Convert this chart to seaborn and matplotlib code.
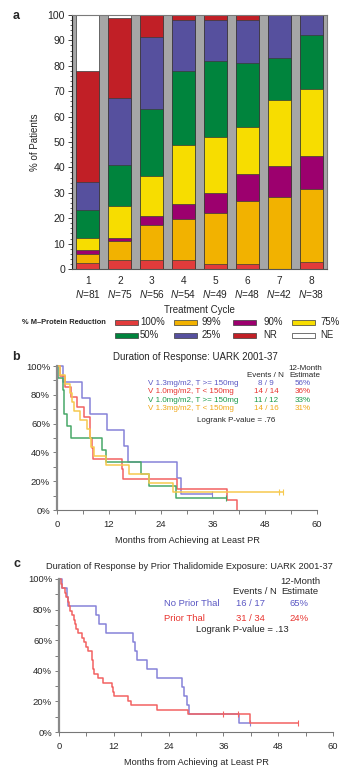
import numpy as np
import pandas as pd
import matplotlib
matplotlib.use("Agg")
import matplotlib.pyplot as plt
import seaborn as sns
from matplotlib.ticker import MultipleLocator
from matplotlib.patches import Rectangle

# ---------------- data: panel a ----------------
cycles = ["1", "2", "3", "4", "5", "6", "7", "8"]
n_pat = [81, 75, 56, 54, 49, 48, 42, 38]
pct_100 = [2.5, 3.7, 3.5, 3.7, 2.0, 2.1, 0.0, 2.6]
pct_99 = [3.6, 7.4, 13.9, 16.1, 19.9, 24.8, 28.4, 28.9]
pct_90 = [1.2, 1.3, 3.6, 5.6, 7.9, 10.5, 12.0, 13.1]
pct_75 = [4.9, 12.6, 15.5, 23.5, 22.1, 18.7, 26.1, 26.3]
pct_50 = [11.0, 16.1, 26.5, 29.1, 29.9, 25.0, 16.7, 21.2]
pct_25 = [11.1, 26.3, 28.2, 20.2, 16.2, 16.8, 16.8, 7.9]
pct_nr = [43.6, 31.3, 8.8, 1.8, 2.0, 2.1, 0.0, 0.0]
pct_ne = [22.1, 1.3, 0.0, 0.0, 0.0, 0.0, 0.0, 0.0]
resp_labels = ["100%", "99%", "90%", "75%", "50%", "25%", "NR", "NE"]

# ---------------- data: panel b (event / censor times, months) ----------------
b_labels = ["V 1.3mg/m2, T >= 150mg", "V 1.0mg/m2, T < 150mg",
            "V 1.0mg/m2, T >= 150mg", "V 1.3mg/m2, T < 150mg"]
b_events_n = ["8 / 9", "14 / 14", "11 / 12", "14 / 16"]
b_est = ["56%", "36%", "33%", "31%"]
b1_ev = [1.4, 5.7, 7.6, 11.5, 15.5, 16.3, 27.6, 28.5]
b1_cen = [35.7]
b2_ev = [0.7, 1.8, 3.2, 4.7, 6.3, 7.5, 7.6, 8.0, 8.4, 14.9, 15.3, 27.6, 39.2, 41.5]
b2_cen = []
b3_ev = [0.3, 1.3, 1.5, 1.7, 2.2, 3.2, 10.3, 11.3, 19.3, 21.2, 27.4]
b3_cen = [39.0]
b4_ev = [0.7, 1.9, 3.0, 3.4, 4.0, 5.2, 7.0, 7.5, 7.9, 8.6, 11.3, 16.5, 21.2, 26.7]
b4_cen = [51.3, 52.2]

# ---------------- data: panel c ----------------
c_labels = ["No Prior Thal", "Prior Thal"]
c_events_n = ["16 / 17", "31 / 34"]
c_est = ["65%", "24%"]
c1_ev = [0.7, 1.7, 1.9, 8.2, 8.7, 10.4, 16.1, 16.6, 17.0, 19.2, 21.4, 26.9, 27.4,
         28.1, 28.5, 39.5]
c1_cen = [41.8]
c2_ev = [0.4, 0.7, 1.4, 1.6, 1.9, 2.1, 2.4, 2.8, 3.3, 3.5, 3.7, 4.2, 5.0, 5.5, 5.9,
         6.4, 7.2, 7.3, 7.4, 7.5, 7.7, 8.6, 9.7, 11.5, 11.8, 12.0, 15.2, 15.8, 21.4,
         28.3, 41.8]
c2_cen = [36.0, 39.3, 52.3]

# ---------------- style ----------------
sns.set_style("ticks")
plt.rcParams["font.family"] = ["Liberation Sans", "DejaVu Sans"]
plt.rcParams["mathtext.fontset"] = "custom"
plt.rcParams["mathtext.rm"] = "Liberation Sans"
plt.rcParams["mathtext.it"] = "Liberation Sans:italic"

W, H = 339, 772
fig = plt.figure(figsize=(W / 100, H / 100), dpi=100)


def ax_px(l, t, r, b):
    return fig.add_axes([l / W, 1 - b / H, (r - l) / W, (b - t) / H])


def fx(x):
    return x / W


def fy(y):
    return 1 - y / H


resp_colors = ["#e23b3b", "#f2b200", "#9c006e", "#f7dd00", "#00843d", "#56509e",
               "#c11f26", "#ffffff"]

# ---------------- panel a ----------------
axa = ax_px(72, 15, 327, 269)
axa.set_facecolor("#a6a6a6")
layers = np.array([pct_100, pct_99, pct_90, pct_75, pct_50, pct_25, pct_nr, pct_ne])
cum = np.cumsum(layers, axis=0)
for i in range(len(layers) - 1, -1, -1):
    sns.barplot(x=cycles, y=cum[i], color=resp_colors[i], saturation=1, width=0.72,
                edgecolor="#3a3a3a", linewidth=0.5, ax=axa, zorder=2)
axa.set_xlim(-0.5, 7.5)
axa.set_ylim(0, 100)
axa.yaxis.set_major_locator(MultipleLocator(10))
axa.yaxis.set_minor_locator(MultipleLocator(2))
axa.set_xticks(range(len(cycles)))
axa.set_xticklabels([f"{c}\n$\\it{{N}}$={n}" for c, n in zip(cycles, n_pat)],
                    fontsize=7.3, linespacing=1.25)
axa.tick_params(axis="x", length=0, pad=5)
axa.tick_params(axis="y", which="major", length=3, width=0.6, labelsize=7.6, pad=2)
axa.tick_params(axis="y", which="minor", length=1.5, width=0.5)
for s in ["top", "right"]:
    axa.spines[s].set_color("#7a7a7a")
    axa.spines[s].set_linewidth(0.8)
axa.spines["left"].set_color("#222222")
axa.spines["bottom"].set_color("#555555")
axa.set_xlabel("Treatment Cycle", fontsize=7, labelpad=3)
axa.set_ylabel("% of Patients", fontsize=7)
axa.yaxis.set_label_coords(-0.125, 0.5)

fig.text(fx(13), fy(16), "a", fontsize=9, fontweight="bold", va="center")

# legend (manual layout)
fig.text(fx(22), fy(322.5), "% M\u2013Protein Reduction", fontsize=5.4,
         fontweight="bold", va="center")
patch_x = [115, 174, 233, 292]
text_x = [140, 202, 263, 320]
row_y = [322.5, 335.5]
for k, lab in enumerate(resp_labels):
    r, c = divmod(k, 4)
    fig.patches.append(Rectangle((fx(patch_x[c]), fy(row_y[r] + 2.6)), 23 / W, 5.2 / H,
                                 transform=fig.transFigure, facecolor=resp_colors[k],
                                 edgecolor="#3a3a3a", linewidth=0.5))
    fig.text(fx(text_x[c]), fy(row_y[r]), lab, fontsize=6.9, va="center")


# ---------------- Kaplan-Meier helper ----------------
def km(events, censors):
    recs = sorted([(t, 1) for t in events] + [(t, 0) for t in censors])
    n = len(recs)
    s = 100.0
    xs, ys, cx, cy = [0.0], [100.0], [], []
    for t, e in recs:
        if e:
            s *= (n - 1) / n
            xs.append(t)
            ys.append(s)
        else:
            cx.append(t)
            cy.append(s)
        n -= 1
    if recs[-1][1] == 0:
        xs.append(recs[-1][0])
        ys.append(s)
    return xs, ys, cx, cy


def style_km(ax):
    ax.set_xlim(0, 60)
    ax.set_ylim(0, 100)
    ax.xaxis.set_major_locator(MultipleLocator(12))
    ax.xaxis.set_minor_locator(MultipleLocator(6))
    ax.yaxis.set_major_locator(MultipleLocator(20))
    ax.yaxis.set_minor_locator(MultipleLocator(10))
    ax.set_yticklabels([f"{int(v)}%" for v in ax.get_yticks()])
    ax.tick_params(which="both", direction="out", length=3, width=0.6,
                   color="#666666", labelsize=6.8, pad=2)
    ax.tick_params(axis="x", pad=4)
    for s in ["top", "right"]:
        ax.spines[s].set_visible(False)
    ax.spines["left"].set_color("#8a8a8a")
    ax.spines["left"].set_linewidth(1.6)
    ax.spines["bottom"].set_color("#777777")
    ax.spines["bottom"].set_linewidth(0.8)
    ax.set_xlabel("Months from Achieving at Least PR", fontsize=6.7, labelpad=5)
    ax.patch.set_alpha(0)


def draw_km(ax, ev, cen, color):
    xs, ys, cx, cy = km(ev, cen)
    sns.lineplot(x=xs, y=ys, drawstyle="steps-post", estimator=None, sort=False,
                 color=color, lw=1.1, ax=ax, clip_on=False)
    if cx:
        ax.plot(cx, cy, ls="none", marker="|", ms=4, mew=0.8, color=color,
                clip_on=False)


line_cols_b = ["#8682d8", "#f26262", "#48a868", "#f7c94e"]
text_cols_b = ["#5b58c4", "#e8342f", "#1a9a4a", "#f0a818"]

# ---------------- panel b ----------------
axb = ax_px(57, 366, 317, 510)
for ev, cen, col in zip([b1_ev, b2_ev, b3_ev, b4_ev], [b1_cen, b2_cen, b3_cen, b4_cen],
                        line_cols_b):
    draw_km(axb, ev, cen, col)
style_km(axb)
fig.text(fx(12), fy(357), "b", fontsize=9, fontweight="bold", va="center")
fig.text(fx(195.5), fy(357), "Duration of Response: UARK 2001-37", fontsize=7,
         ha="center", va="center")
fs_b = 5.8
fig.text(fx(305), fy(368.5), "12-Month", fontsize=fs_b, ha="center", va="center")
fig.text(fx(265), fy(376), "Events / N", fontsize=fs_b, ha="center", va="center")
fig.text(fx(305), fy(376), "Estimate", fontsize=fs_b, ha="center", va="center")
for k in range(4):
    yy = fy(383.5 + 8.3 * k)
    fig.text(fx(148), yy, b_labels[k], fontsize=fs_b, color=text_cols_b[k], va="center")
    fig.text(fx(266), yy, b_events_n[k], fontsize=fs_b, color=text_cols_b[k],
             ha="center", va="center")
    fig.text(fx(303), yy, b_est[k], fontsize=fs_b, color=text_cols_b[k],
             ha="center", va="center")
fig.text(fx(236.5), fy(420), "Logrank P-value = .76", fontsize=fs_b, ha="center",
         va="center")

# ---------------- panel c ----------------
axc = ax_px(59, 579, 333, 732)
for ev, cen, col in zip([c1_ev, c2_ev], [c1_cen, c2_cen], [line_cols_b[0], line_cols_b[1]]):
    draw_km(axc, ev, cen, col)
style_km(axc)
fig.text(fx(14), fy(564), "c", fontsize=9, fontweight="bold", va="center")
fig.text(fx(45.5), fy(566.5),
         "Duration of Response by Prior Thalidomide Exposure: UARK 2001-37",
         fontsize=6.65, ha="left", va="center")
fs_c = 6.8
fig.text(fx(300), fy(581), "12-Month", fontsize=fs_c, ha="center", va="center")
fig.text(fx(254.5), fy(592), "Events / N", fontsize=fs_c, ha="center", va="center")
fig.text(fx(300), fy(592), "Estimate", fontsize=fs_c, ha="center", va="center")
for k in range(2):
    yy = fy(603.5 + 15 * k)
    fig.text(fx(164), yy, c_labels[k], fontsize=fs_c, color=text_cols_b[k], va="center")
    fig.text(fx(250), yy, c_events_n[k], fontsize=fs_c, color=text_cols_b[k],
             ha="center", va="center")
    fig.text(fx(299), yy, c_est[k], fontsize=fs_c, color=text_cols_b[k],
             ha="center", va="center")
fig.text(fx(242.5), fy(629.5), "Logrank P-value = .13", fontsize=fs_c, ha="center",
         va="center")

fig.savefig("out.png", dpi=100)
